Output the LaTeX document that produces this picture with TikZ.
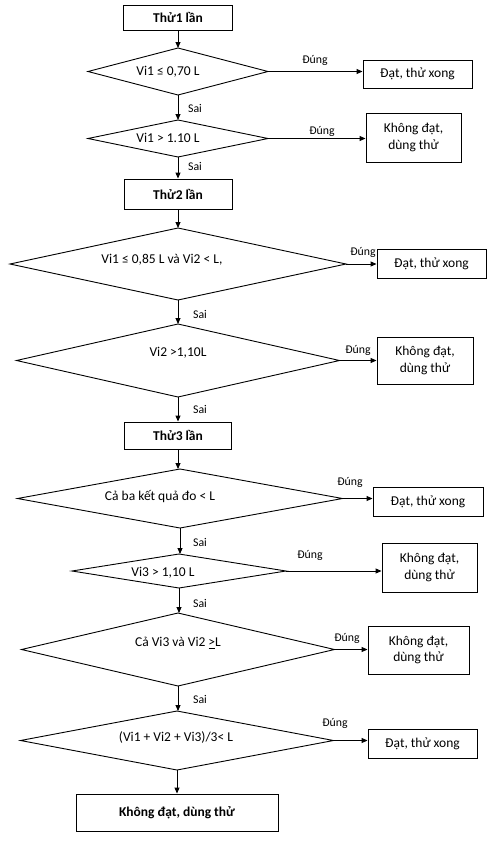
\documentclass[tikz,border=0pt]{standalone}
\usepackage{fontspec}
\setmainfont{Carlito}
\usetikzlibrary{shapes.geometric,arrows.meta,calc}
\begin{document}
\begin{tikzpicture}[x=1pt,y=-1pt,
 box/.style={draw,line width=0.9pt,inner sep=2pt,align=center,font=\fontsize{13.5}{16.5}\selectfont},
 dia/.style={draw,diamond,line width=0.9pt,inner sep=0pt,outer sep=0pt},
 txt/.style={font=\fontsize{13.5}{16}\selectfont,inner sep=0pt},
 lbl/.style={font=\fontsize{11.8}{13}\selectfont,inner sep=0pt},
 arr/.style={-{Triangle[length=6pt,width=5pt]},line width=0.9pt}]
\useasboundingbox (0,0) rectangle (492,846);
% main column
\node[box,minimum width=109pt,minimum height=25pt] (b1) at (178,17.5) {\textbf{Thử1 lần}};
\node[dia,minimum width=180pt,minimum height=47pt] (d1) at (178,71.5) {};
\node[txt] (t1) at (168,72) {Vi1 ≤ 0,70 L};
\node[dia,minimum width=180pt,minimum height=37pt] (d2) at (178,138.5) {};
\node[txt] (t2) at (168,138) {Vi1 > 1.10 L};
\node[box,minimum width=108pt,minimum height=30pt] (b2) at (178,194) {\textbf{Thử2 lần}};
\node[dia,minimum width=336pt,minimum height=72pt] (d3) at (178,264) {};
\node[txt] (t3) at (162,260) {Vi1 ≤ 0,85 L và Vi2 < L,};
\node[dia,minimum width=323pt,minimum height=73pt] (d4) at (178,360.5) {};
\node[txt] (t4) at (178,353) {Vi2 >1,10L};
\node[box,minimum width=107pt,minimum height=27pt] (b3) at (178,435.5) {\textbf{Thử3 lần}};
\node[dia,minimum width=325pt,minimum height=59pt] (d5) at (180,498.5) {};
\node[txt] (t5) at (160,497) {Cả ba kết quả đo < L};
\node[dia,minimum width=214pt,minimum height=34pt] (d6) at (179,571) {};
\node[txt] (t6) at (163,573) {Vi3 > 1,10 L};
\node[dia,minimum width=313pt,minimum height=73pt] (d7) at (178,649.5) {};
\node[txt] (t7) at (178,643) {Cả Vi3 và Vi2 \underline{>}L};
\node[dia,minimum width=313pt,minimum height=59pt] (d8) at (177,740.5) {};
\node[txt] (t8) at (176,737) {(Vi1 + Vi2 + Vi3)/3< L};
\node[box,minimum width=202pt,minimum height=37pt] (bf) at (177,812.5) {\textbf{Không đạt, dùng thử}};
% right column
\node[box,minimum width=109pt,minimum height=28pt] (r1) at (417.5,74) {Đạt, thử xong};
\node[box,minimum width=95pt,minimum height=49pt] (r2) at (413.5,137.5) {Không đạt,\\dùng thử};
\node[box,minimum width=109pt,minimum height=29pt] (r3) at (431.5,263.5) {Đạt, thử xong};
\node[box,minimum width=96pt,minimum height=47pt] (r4) at (425,360.5) {Không đạt,\\dùng thử};
\node[box,minimum width=110pt,minimum height=29pt] (r5) at (428,501.5) {Đạt, thử xong};
\node[box,minimum width=95pt,minimum height=49pt] (r6) at (429.5,567.5) {Không đạt,\\dùng thử};
\node[box,minimum width=101pt,minimum height=48pt] (r7) at (418.5,650) {Không đạt,\\dùng thử};
\node[box,minimum width=109pt,minimum height=29pt] (r8) at (422.5,743.5) {Đạt, thử xong};
% vertical arrows
\draw[arr] (b1.south) -- (d1.north);
\draw[arr] (d1.south) -- (d2.north);
\draw[arr] (d2.south) -- (b2.north);
\draw[arr] (b2.south) -- (d3.north);
\draw[arr] (d3.south) -- (d4.north);
\draw[arr] (d4.south) -- (b3.north);
\draw[arr] (b3.south) -- (b3.south |- d5.north);
\draw[arr] (d5.south) -- (d5.south |- d6.north);
\draw[arr] (d6.south) -- (d6.south |- d7.north);
\draw[arr] (d7.south) -- (d7.south |- d8.north);
\draw[arr] (d8.south) -- (d8.south |- bf.north);
% horizontal arrows
\draw[arr] (d1.east) -- (d1.east -| r1.west);
\draw[arr] (d2.east) -- (d2.east -| r2.west);
\draw[arr] (d3.east) -- (d3.east -| r3.west);
\draw[arr] (d4.east) -- (d4.east -| r4.west);
\draw[arr] (d5.east) -- (d5.east -| r5.west);
\draw[arr] (d6.east) -- (d6.east -| r6.west);
\draw[arr] (d7.east) -- (d7.east -| r7.west);
\draw[arr] (d8.east) -- (d8.east -| r8.west);
% labels
\node[lbl] (y1) at (315,60) {Đúng};
\node[lbl] (y2) at (322,131) {Đúng};
\node[lbl] (y3) at (363,252) {Đúng};
\node[lbl] (y4) at (358,350) {Đúng};
\node[lbl] (y5) at (350,482) {Đúng};
\node[lbl] (y6) at (310,555) {Đúng};
\node[lbl] (y7) at (347,638) {Đúng};
\node[lbl] (y8) at (335,723) {Đúng};
\node[lbl] (s1) at (195,108) {Sai};
\node[lbl] (s2) at (195,166) {Sai};
\node[lbl] (s3) at (200,314) {Sai};
\node[lbl] (s4) at (200,409) {Sai};
\node[lbl] (s5) at (200,542) {Sai};
\node[lbl] (s6) at (200,603) {Sai};
\node[lbl] (s7) at (200,699) {Sai};
\end{tikzpicture}
\end{document}
